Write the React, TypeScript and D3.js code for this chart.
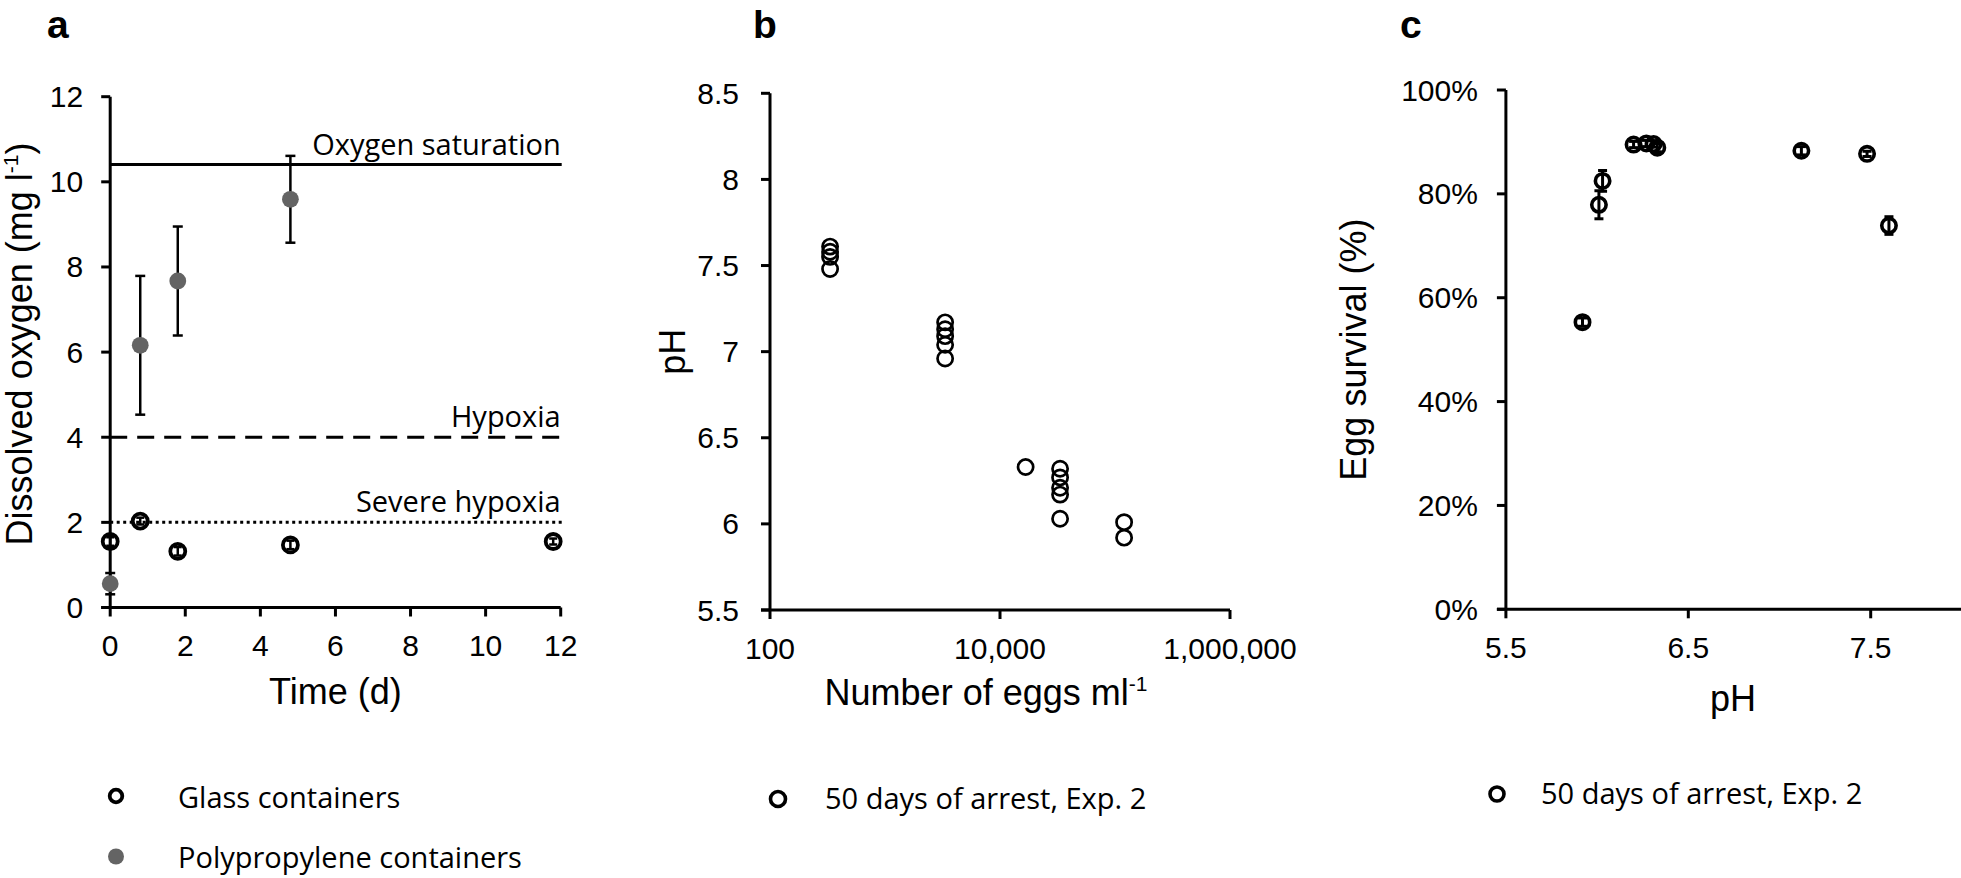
import React from "react";
import * as d3 from "d3";

// ---------- Panel a data ----------
const timeGlass = [0, 0.8, 1.8, 4.8, 11.8];
const doGlass = [1.55, 2.03, 1.32, 1.47, 1.55];
const doGlassErr = [0.1, 0.08, 0.1, 0.1, 0.07];
const timePoly = [0, 0.8, 1.8, 4.8];
const doPoly = [0.56, 6.16, 7.67, 9.59];
const doPolyErr = [0.25, 1.63, 1.28, 1.02];
const refLines = [
  { label: "Oxygen saturation", value: 10.41, dash: "none" },
  { label: "Hypoxia", value: 4, dash: "17 10" },
  { label: "Severe hypoxia", value: 2, dash: "3 3.5" },
];
const ticksA = [0, 2, 4, 6, 8, 10, 12];

// ---------- Panel b data ----------
const eggsB = [333, 333, 333, 333, 3333, 3333, 3333, 3333, 3333, 16700, 33300, 33300, 33300, 33300, 33300, 120000, 120000];
const pHB = [7.61, 7.58, 7.55, 7.48, 7.17, 7.13, 7.09, 7.04, 6.96, 6.33, 6.32, 6.27, 6.21, 6.17, 6.03, 6.01, 5.92];
const yTicksB = [5.5, 6, 6.5, 7, 7.5, 8, 8.5];
const xTicksB = [100, 10000, 1000000];

// ---------- Panel c data ----------
const pHC = [5.92, 6.01, 6.03, 6.2, 6.27, 6.31, 6.33, 7.12, 7.48, 7.6];
const survC = [0.553, 0.779, 0.825, 0.895, 0.897, 0.896, 0.889, 0.883, 0.877, 0.739];
const survErr = [0.008, 0.027, 0.02, 0.006, 0.006, 0.006, 0.008, 0.008, 0.005, 0.017];
const yTicksC = [0, 0.2, 0.4, 0.6, 0.8, 1];
const xTicksC = [5.5, 6.5, 7.5];

const AX = "'Liberation Sans', Arial, Helvetica, sans-serif";
const MY = "'Open Sans', 'Noto Sans', sans-serif";
const POLY = "#646464";

const xA = d3.scaleLinear().domain([0, 12]).range([110.2, 560.7]);
const yA = d3.scaleLinear().domain([0, 12]).range([607.5, 96.7]);
const xB = d3.scaleLog().domain([100, 1e6]).range([770, 1230]);
const yB = d3.scaleLinear().domain([5.5, 8.5]).range([610, 93.3]);
const xC = d3.scaleLinear().domain([5.5, 8.5]).range([1505.9, 1505.9 + 3 * 182.4]);
const yC = d3.scaleLinear().domain([0, 1]).range([609.3, 90]);

const fmtB = d3.format(",");
const fmtC = d3.format(".0%");

function ErrBar({ x, y0, y1, cap = 5, sw = 2.5 }: any) {
  return (
    <g stroke="#000" strokeWidth={sw}>
      <line x1={x} x2={x} y1={y0} y2={y1} />
      <line x1={x - cap} x2={x + cap} y1={y0} y2={y0} />
      <line x1={x - cap} x2={x + cap} y1={y1} y2={y1} />
    </g>
  );
}

export default function App() {
  const tick = 9;
  const axW = 3;
  const tickFs = 30;
  const titleFs = 36;
  const myFs = 29;

  return (
    <svg width={1961} height={878} style={{ position: "absolute", left: 0, top: 0, background: "#fff" }}>
      <rect width={1961} height={878} fill="#fff" />

      {/* ===== Panel a ===== */}
      <text x={47} y={38} fontFamily={AX} fontWeight="bold" fontSize={39}>a</text>
      {refLines.map((r) => (
        <g key={r.label}>
          <line x1={xA(0)} x2={xA(12) + 1} y1={yA(r.value)} y2={yA(r.value)} stroke="#000" strokeWidth={3}
            strokeDasharray={r.dash === "none" ? undefined : r.dash} />
          <text x={xA(12)} y={yA(r.value) - (r.value > 10 ? 9 : 10)} textAnchor="end" fontFamily={MY} fontSize={myFs}>{r.label}</text>
        </g>
      ))}
      <g stroke="#000" strokeWidth={axW}>
        <line x1={xA(0)} x2={xA(0)} y1={yA(12)} y2={yA(0)} />
        <line x1={xA(0) - tick} x2={xA(12)} y1={yA(0)} y2={yA(0)} />
        {ticksA.map((t) => <line key={"ya" + t} x1={xA(0) - tick} x2={xA(0)} y1={yA(t)} y2={yA(t)} />)}
        {ticksA.map((t) => <line key={"xa" + t} x1={xA(t)} x2={xA(t)} y1={yA(0)} y2={yA(0) + tick} />)}
      </g>
      {ticksA.map((t) => (
        <text key={"yl" + t} x={xA(0) - 27} y={yA(t) + 10.5} textAnchor="end" fontFamily={AX} fontSize={tickFs}>{t}</text>
      ))}
      {ticksA.map((t) => (
        <text key={"xl" + t} x={xA(t)} y={656} textAnchor="middle" fontFamily={AX} fontSize={tickFs}>{t}</text>
      ))}
      <text x={(xA(0) + xA(12)) / 2} y={704} textAnchor="middle" fontFamily={AX} fontSize={titleFs}>Time (d)</text>
      <text transform={`translate(32,344) rotate(-90)`} textAnchor="middle" fontFamily={AX} fontSize={titleFs}>
        Dissolved oxygen (mg l<tspan dy={-14} fontSize={21}>-1</tspan><tspan dy={14}>)</tspan>
      </text>
      {timePoly.map((t, i) => (
        <g key={"p" + i}>
          <ErrBar x={xA(t)} y0={yA(doPoly[i] + doPolyErr[i])} y1={yA(doPoly[i] - doPolyErr[i])} />
          <circle cx={xA(t)} cy={yA(doPoly[i])} r={8.4} fill={POLY} />
        </g>
      ))}
      {timeGlass.map((t, i) => (
        <g key={"g" + i}>
          <ErrBar x={xA(t)} y0={yA(doGlass[i] + doGlassErr[i])} y1={yA(doGlass[i] - doGlassErr[i])} cap={4} sw={2.5} />
          <circle cx={xA(t)} cy={yA(doGlass[i])} r={7.5} fill="none" stroke="#000" strokeWidth={3.8} />
        </g>
      ))}
      <circle cx={116} cy={796} r={6.3} fill="none" stroke="#000" strokeWidth={3.8} />
      <text x={178} y={808} fontFamily={MY} fontSize={myFs}>Glass containers</text>
      <circle cx={116} cy={856.5} r={8} fill={POLY} />
      <text x={178} y={868} fontFamily={MY} fontSize={myFs}>Polypropylene containers</text>

      {/* ===== Panel b ===== */}
      <text x={753} y={38} fontFamily={AX} fontWeight="bold" fontSize={39}>b</text>
      <g stroke="#000" strokeWidth={axW}>
        <line x1={xB(100)} x2={xB(100)} y1={yB(8.5)} y2={yB(5.5)} />
        <line x1={xB(100) - tick} x2={xB(1e6)} y1={yB(5.5)} y2={yB(5.5)} />
        {yTicksB.map((t) => <line key={"yb" + t} x1={xB(100) - tick} x2={xB(100)} y1={yB(t)} y2={yB(t)} />)}
        {xTicksB.map((t) => <line key={"xb" + t} x1={xB(t)} x2={xB(t)} y1={yB(5.5)} y2={yB(5.5) + tick} />)}
      </g>
      {yTicksB.map((t) => (
        <text key={"ybl" + t} x={xB(100) - 31} y={yB(t) + 10.5} textAnchor="end" fontFamily={AX} fontSize={tickFs}>{t}</text>
      ))}
      {xTicksB.map((t) => (
        <text key={"xbl" + t} x={xB(t)} y={659} textAnchor="middle" fontFamily={AX} fontSize={tickFs}>{fmtB(t)}</text>
      ))}
      <text x={986} y={705} textAnchor="middle" fontFamily={AX} fontSize={titleFs}>
        Number of eggs ml<tspan dy={-14} fontSize={21}>-1</tspan>
      </text>
      <text transform={`translate(685,${(yB(5.5) + yB(8.5)) / 2}) rotate(-90)`} textAnchor="middle" fontFamily={AX} fontSize={titleFs}>pH</text>
      {eggsB.map((e, i) => (
        <circle key={"b" + i} cx={xB(e)} cy={yB(pHB[i])} r={7.6} fill="none" stroke="#000" strokeWidth={2.7} />
      ))}
      <circle cx={778} cy={799} r={7.5} fill="none" stroke="#000" strokeWidth={3.6} />
      <text x={825} y={809} fontFamily={MY} fontSize={myFs}>50 days of arrest, Exp. 2</text>

      {/* ===== Panel c ===== */}
      <text x={1400} y={38} fontFamily={AX} fontWeight="bold" fontSize={39}>c</text>
      <g stroke="#000" strokeWidth={axW}>
        <line x1={xC(5.5)} x2={xC(5.5)} y1={yC(1)} y2={yC(0)} />
        <line x1={xC(5.5) - tick} x2={1961} y1={yC(0)} y2={yC(0)} />
        {yTicksC.map((t) => <line key={"yc" + t} x1={xC(5.5) - tick} x2={xC(5.5)} y1={yC(t)} y2={yC(t)} />)}
        {xTicksC.map((t) => <line key={"xc" + t} x1={xC(t)} x2={xC(t)} y1={yC(0)} y2={yC(0) + tick} />)}
      </g>
      {yTicksC.map((t) => (
        <text key={"ycl" + t} x={xC(5.5) - 28} y={yC(t) + 10.5} textAnchor="end" fontFamily={AX} fontSize={tickFs}>{fmtC(t)}</text>
      ))}
      {xTicksC.map((t) => (
        <text key={"xcl" + t} x={xC(t)} y={658} textAnchor="middle" fontFamily={AX} fontSize={tickFs}>{t}</text>
      ))}
      <text x={1733} y={711} textAnchor="middle" fontFamily={AX} fontSize={titleFs}>pH</text>
      <text transform={`translate(1366,${(yC(0) + yC(1)) / 2}) rotate(-90)`} textAnchor="middle" fontFamily={AX} fontSize={titleFs}>Egg survival (%)</text>
      {pHC.map((p, i) => (
        <g key={"c" + i}>
          <ErrBar x={xC(p)} y0={yC(survC[i] + survErr[i])} y1={yC(survC[i] - survErr[i])} cap={4.5} sw={3} />
          <circle cx={xC(p)} cy={yC(survC[i])} r={7.2} fill="none" stroke="#000" strokeWidth={3.6} />
        </g>
      ))}
      <circle cx={1497} cy={794} r={7} fill="none" stroke="#000" strokeWidth={3.6} />
      <text x={1541} y={804} fontFamily={MY} fontSize={myFs}>50 days of arrest, Exp. 2</text>
    </svg>
  );
}
